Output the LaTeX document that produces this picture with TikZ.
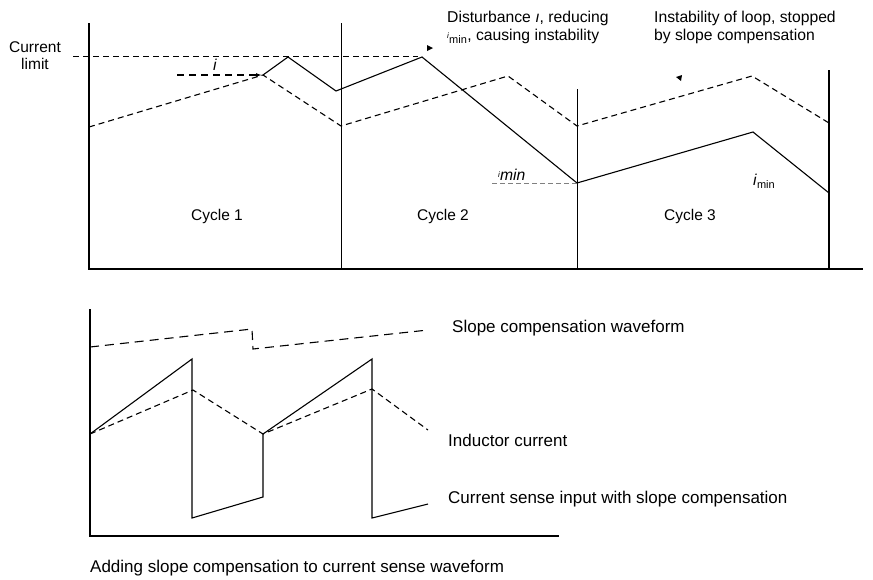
\documentclass[tikz,border=0pt]{standalone}
\usepackage{fontspec}
\setmainfont{Liberation Sans}
\usetikzlibrary{arrows.meta}
\begin{document}
\begin{tikzpicture}[x=1pt,y=-1pt,
  axis/.style={line width=1.4pt},
  cyc/.style={line width=0.7pt},
  wave/.style={line width=1.1pt,line join=miter},
  dwave/.style={line width=1.1pt,dash pattern=on 6pt off 4pt},
  lim/.style={line width=0.8pt,dash pattern=on 6pt off 4pt},
  lbl/.style={anchor=base west,inner sep=0pt,font=\fontsize{15.7}{18}\selectfont},
  lblc/.style={anchor=base,inner sep=0pt,font=\fontsize{15.5}{18}\selectfont},
  blbl/.style={anchor=base west,inner sep=0pt,font=\fontsize{17}{20}\selectfont}]
\useasboundingbox (0,0) rectangle (873,579);
% ---------- top panel ----------
\coordinate (yT) at (89,23);
\coordinate (o1) at (89,269);
\coordinate (xE) at (863,269);
\draw[axis] (yT) -- (o1) -- (xE);
\coordinate (v1a) at (341,23);  \coordinate (v1b) at (341,269);
\coordinate (v2a) at (577,89);  \coordinate (v2b) at (577,268);
\coordinate (v3a) at (829,70);  \coordinate (v3b) at (829,269);
\draw[cyc] (v1a) -- (v1b);
\draw[cyc] (v2a) -- (v2b);
\draw[line width=1.1pt] (v3a) -- (v3b);
% current limit
\coordinate (cl1) at (73,56); \coordinate (cl2) at (418,56);
\draw[lim] (cl1) -- (cl2);
% disturbance marker
\coordinate (d1) at (177,75); \coordinate (d2) at (262,75);
\draw[line width=1.1pt,dash pattern=on 7pt off 5pt,-{Latex[length=6pt,width=4pt]}] (d1) -- (d2);
% dashed waveform
\coordinate (a0) at (89,127);
\coordinate (a1) at (263,75);
\coordinate (a2) at (341,126);
\coordinate (a3) at (508,76);
\coordinate (a4) at (577,126);
\coordinate (a5) at (752,76);
\coordinate (a6) at (829,123);
\draw[dwave] (a0) -- (a1) -- (a2) -- (a3) -- (a4) -- (a5) -- (a6);
% solid waveform
\coordinate (s1) at (288,57);
\coordinate (s2) at (336,91);
\coordinate (s3) at (422,57);
\coordinate (s4) at (577,183);
\coordinate (s5) at (753,132);
\coordinate (s6) at (829,193);
\draw[wave] (a1) -- (s1) -- (s2) -- (s3) -- (s4) -- (s5) -- (s6);
% imin dashed
\coordinate (m1) at (492,183);
\draw[line width=0.7pt,dash pattern=on 5pt off 3pt,gray] (m1) -- (s4);
% small arrow tips
\fill (427,45) -- (433,48) -- (427,51) -- cycle;
\fill (676,77) -- (682,75) -- (681,81) -- cycle;
% labels
\node[lblc] (tcur) at (35,52) {Current};
\node[lblc] (tlim) at (35,69) {limit};
\node[lbl] (ti) at (213,70) {\textit{i}};
\node[lbl] (tdist1) at (447,22) {Disturbance \textit{ı}, reducing};
\node[lbl] (tdist2) at (447,40) {\raisebox{2pt}{\footnotesize\textit{i}}\textsubscript{min}, causing instability};
\node[lbl] (tinst1) at (654,22) {Instability of loop, stopped};
\node[lbl] (tinst2) at (654,40) {by slope compensation};
\node[lbl] (tmin1) at (498,180) {\raisebox{3pt}{\footnotesize\textit{i}}\textit{min}};
\node[lbl] (tmin2) at (753,185) {\textit{i}\textsubscript{min}};
\node[lblc] (c1) at (217,220) {Cycle 1};
\node[lblc] (c2) at (443,220) {Cycle 2};
\node[lblc] (c3) at (690,220) {Cycle 3};
% ---------- bottom panel ----------
\coordinate (byT) at (90,309);
\coordinate (bo) at (90,536);
\coordinate (bxE) at (559,536);
\draw[axis] (byT) -- (bo) -- (bxE);
% slope compensation waveform
\coordinate (p0) at (90,347);
\coordinate (p1) at (252,329);
\coordinate (p2) at (253,349);
\coordinate (p3) at (428,330);
\draw[line width=1.1pt,dash pattern=on 9pt off 6pt] (p0) -- (p1) -- (p2) -- (p3);
% current sense with slope compensation
\coordinate (q0) at (90,434);
\coordinate (q1) at (192,359);
\coordinate (q2) at (192,518);
\coordinate (q3) at (263,497);
\coordinate (q4) at (263,434);
\coordinate (q5) at (372,359);
\coordinate (q6) at (372,518);
\coordinate (q7) at (428,504);
\draw[wave] (q0) -- (q1) -- (q2) -- (q3) -- (q4) -- (q5) -- (q6) -- (q7);
% inductor current
\coordinate (r1) at (193,390);
\coordinate (r3) at (372,389);
\coordinate (r4) at (428,430);
\draw[dwave] (q0) -- (r1) -- (q4) -- (r3) -- (r4);
% labels
\node[blbl] (lsc) at (452,332) {Slope compensation waveform};
\node[blbl] (lic) at (448,446) {Inductor current};
\node[blbl] (lcs) at (448,503) {Current sense input with slope compensation};
\node[blbl] (cap) at (90,572) {Adding slope compensation to current sense waveform};
\end{tikzpicture}
\end{document}
